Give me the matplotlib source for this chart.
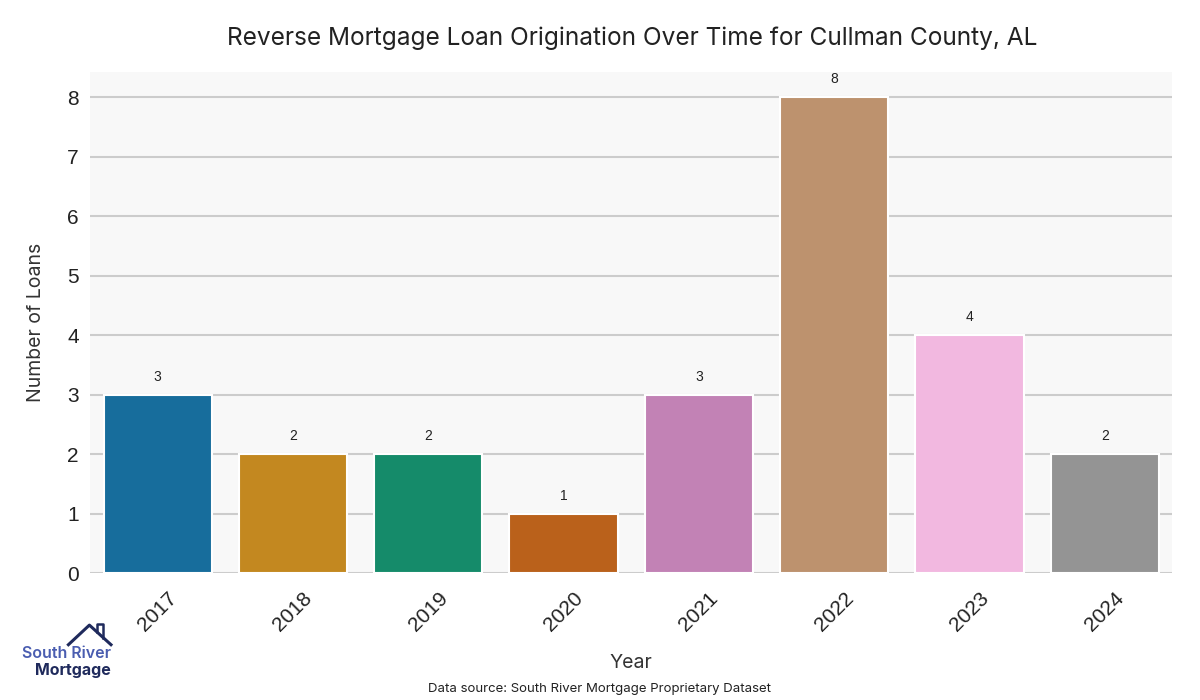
import matplotlib.pyplot as plt
import seaborn as sns

years = ["2017", "2018", "2019", "2020", "2021", "2022", "2023", "2024"]
loans = [3, 2, 2, 1, 3, 8, 4, 2]
colors = [sns.desaturate(c, 0.75) for c in sns.color_palette("colorblind", len(years))]

fig = plt.figure(figsize=(12, 7), dpi=100)
ax = fig.add_axes([0.075, 0.181, 0.902, 0.716])
ax.set_facecolor("#f8f8f8")

x = range(len(years))
bars = ax.bar(x, loans, width=0.8, color=colors, edgecolor="white", linewidth=1.5, zorder=3)
for xi, v in zip(x, loans):
    ax.annotate(str(v), (xi, v), xytext=(0, 8), textcoords="offset points",
                ha="center", va="bottom", fontsize=10, color="#222222", family="Liberation Sans")

ax.set_xlim(-0.5, 7.5)
ax.set_ylim(0, 8.42)
ax.set_xticks(list(x))
ax.set_xticklabels(years, rotation=45, fontsize=15, family="Liberation Sans", color="#222222")
ax.set_yticks(range(0, 9))
ax.set_yticklabels([str(i) for i in range(0, 9)], fontsize=15, family="Liberation Sans", color="#222222")
ax.tick_params(axis="y", length=0, pad=8)
ax.tick_params(axis="x", length=0, pad=11)
ax.yaxis.grid(True, color="#cccccc", linewidth=1.5, zorder=0)
ax.set_axisbelow(True)
for s in ax.spines.values():
    s.set_visible(False)

ax.set_ylabel("Number of Loans", fontsize=14, family="Inter", color="#333333", labelpad=16)
ax.set_xlabel("Year", fontsize=14, family="Inter", color="#333333", labelpad=14)
fig.text(0.527, 0.945, "Reverse Mortgage Loan Origination Over Time for Cullman County, AL",
         ha="center", va="center", fontsize=17.6, family="Inter", color="#222222")
fig.text(0.5, 0.016, "Data source: South River Mortgage Proprietary Dataset",
         ha="center", va="center", fontsize=9.5, family="Inter", color="#222222")

# logo
fig.text(0.0555, 0.066, "South River", ha="center", va="center", fontsize=11.5,
         family="Inter", fontweight="semibold", color="#4a5db0")
fig.text(0.061, 0.042, "Mortgage", ha="center", va="center", fontsize=11.5,
         family="Inter", fontweight="bold", color="#1f2a5c")
fig.add_artist(plt.Line2D([0.057, 0.0745, 0.0925], [0.079, 0.107, 0.079],
                          transform=fig.transFigure, color="#1f2a5c", linewidth=2.2))
fig.add_artist(plt.Line2D([0.0808, 0.0808, 0.0858, 0.0858], [0.097, 0.108, 0.108, 0.089],
                          transform=fig.transFigure, color="#1f2a5c", linewidth=1.8))

fig.savefig("out.png", dpi=100)
